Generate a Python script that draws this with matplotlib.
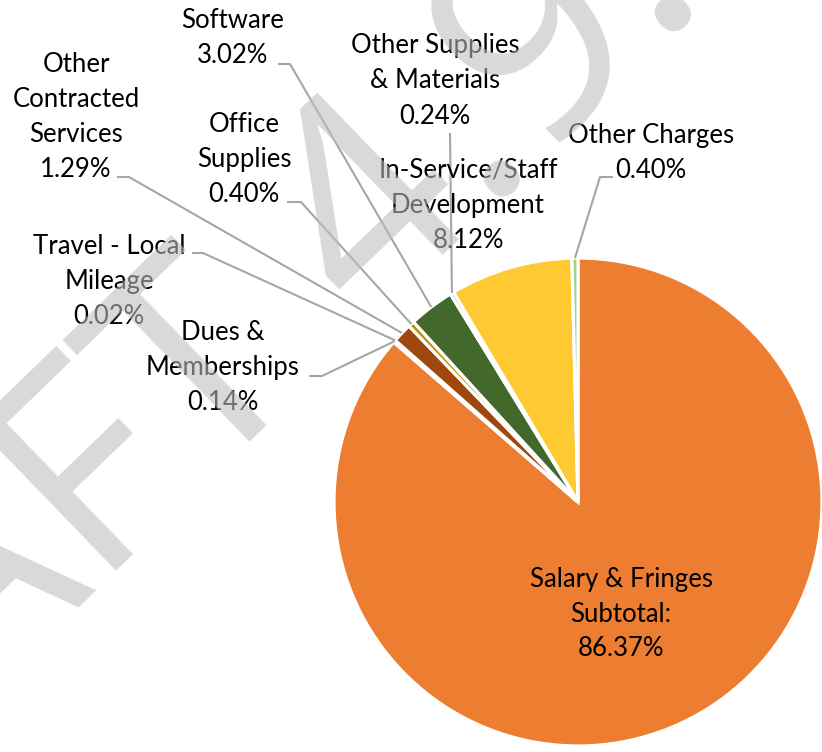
import numpy as np
import matplotlib
matplotlib.use("Agg")
import matplotlib.pyplot as plt

# budget shares, clockwise from 12 o'clock
categories = [
    "Salary & Fringes\nSubtotal:",
    "Dues &\nMemberships",
    "Travel - Local\nMileage",
    "Other\nContracted\nServices",
    "Office\nSupplies",
    "Software",
    "Other Supplies\n& Materials",
    "In-Service/Staff\nDevelopment",
    "Other Charges",
]
shares = [86.37, 0.14, 0.02, 1.29, 0.40, 3.02, 0.24, 8.12, 0.40]
colors = ["#ED7D31", "#A5A5A5", "#5B9BD5", "#9E480E", "#BF9000",
          "#43682B", "#7F7F7F", "#FFC931", "#A9D18E"]

W, H = 822, 752

# label layout in image pixels: text centre, leader start, stub end (None = no leader)
label_pos = [
    ((621, 614), None, None),
    ((223, 368), (309, 376), (322, 376)),
    ((109, 282), (192, 253), (203, 253)),
    ((76, 117), (117, 177), (129, 177)),
    ((244, 160), (287, 202), (301, 202)),
    ((233, 38), (278, 64), (290, 64)),
    ((435, 81), (450, 133), None),
    ((468, 205), None, None),
    ((651, 153), (613, 177), (600, 177)),
]

plt.rcParams["font.family"] = ["Lato", "DejaVu Sans"]

fig = plt.figure(figsize=(W / 100, H / 100), dpi=100)
ax = fig.add_axes([0, 0, 1, 1])

wedges, _ = ax.pie(
    shares,
    colors=colors,
    startangle=90,
    counterclock=False,
    center=(578, H - 502),
    radius=244,
    wedgeprops=dict(edgecolor="white", linewidth=2.3),
)
ax.set_xlim(0, W)
ax.set_ylim(0, H)
ax.set_aspect("equal")
ax.axis("off")

for w, name, val, (txt, start, stub) in zip(wedges, categories, shares, label_pos):
    x, y = txt
    ax.text(x, H - y, f"{name}\n{val:.2f}%", ha="center", va="center",
            fontsize=18.5, linespacing=1.5, color="black", zorder=5)
    if start is None:
        continue
    mid = np.deg2rad((w.theta1 + w.theta2) / 2)
    ex = w.center[0] + w.r * np.cos(mid)
    ey = w.center[1] + w.r * np.sin(mid)
    xs = [start[0]]
    ys = [H - start[1]]
    if stub is not None:
        xs.append(stub[0])
        ys.append(H - stub[1])
    xs.append(ex)
    ys.append(ey)
    ax.plot(xs, ys, color="#A6A6A6", lw=1.5, zorder=4, solid_capstyle="butt")

# faint watermark across the chart
fig.text(150 / W, 1 - 435 / H, "DRAFT 4.9.", rotation=44, rotation_mode="anchor",
         ha="center", va="center", fontsize=205, family="Open Sans",
         color=(0.745, 0.745, 0.745), alpha=0.58, zorder=10)

fig.savefig("out.png", dpi=100)
